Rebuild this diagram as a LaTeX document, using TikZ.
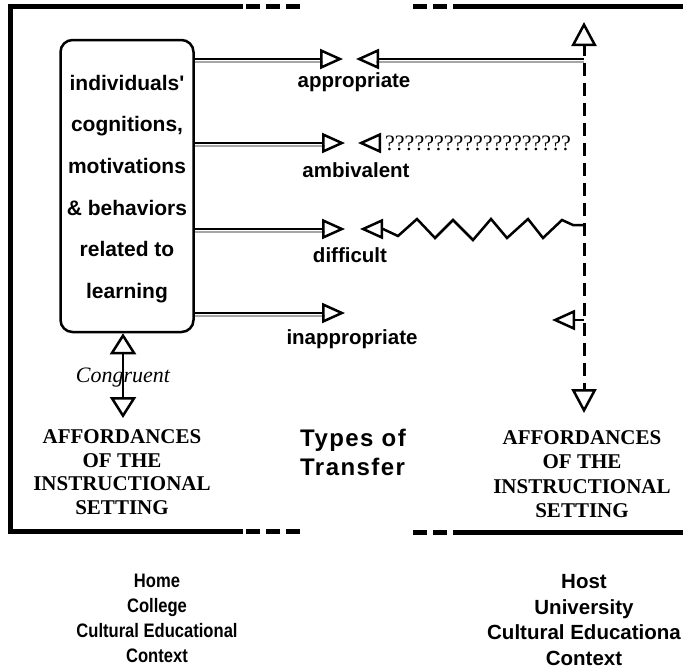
\documentclass[tikz,border=0pt]{standalone}
\usepackage{fontspec}
\setmainfont{Liberation Serif}
\setsansfont{Liberation Sans}
\usetikzlibrary{arrows.meta}
\tikzset{
  frame/.style={line width=5pt, line cap=butt},
  framedash/.style={line width=5pt, dash pattern=on 14pt off 6pt},
  shaft/.style={line width=2.8pt, line cap=butt},
  grayshaft/.style={line width=1.8pt, gray!70, line cap=butt},
  otip/.style={-{Triangle[open, length=23pt, width=20pt, line width=2.5pt]}},
  congtips/.style={{Triangle[open, length=21pt, width=26pt, line width=2.5pt]}-{Triangle[open, length=21pt, width=26pt, line width=2.5pt]}},
  vtips/.style={{Triangle[open, length=24pt, width=25pt, line width=2.5pt]}-{Triangle[open, length=24pt, width=25pt, line width=2.5pt]}},
  sanslbl/.style={font=\sffamily\bfseries\fontsize{20.5}{22}\selectfont, inner sep=0pt},
  serifcap/.style={font=\bfseries\fontsize{21}{23.5}\selectfont, align=center, inner sep=0pt},
  bottomtxt/.style={font=\sffamily\bfseries\fontsize{19.5}{25}\selectfont, align=center, inner sep=0pt},
}
\begin{document}
\begin{tikzpicture}[x=1pt, y=-1pt]
\useasboundingbox (0,0) rectangle (683,670);
% frames
\draw[frame] (243,6) -- (10,6) -- (10,531) -- (243,531);
\draw[framedash] (246,6) -- (303,6);
\draw[framedash] (246,531) -- (303,531);
\draw[framedash] (413,6) -- (467,6);
\draw[framedash] (413,532) -- (467,532);
\draw[frame] (467,6) -- (683,6);
\draw[frame] (467,532) -- (683,532);

% main box
\node[draw, line width=2.5pt, rounded corners=12pt, minimum width=133pt, minimum height=292pt,
      align=center, inner sep=0pt, font=\sffamily\bfseries\fontsize{21}{41.6}\selectfont]
  (box) at (127,186) {\rule{0pt}{21pt}individuals\textquotesingle\\cognitions,\\motivations\\\& behaviors\\related to\\learning};

% tips of left arrows
\coordinate (t1) at (343,59);
\coordinate (t2) at (345,143);
\coordinate (t3) at (345,229);
\coordinate (t4) at (345,313);
\foreach \t in {t1,t2,t3,t4}{
  \draw[grayshaft, shorten >=20pt] ([yshift=-3pt]box.east |- \t) -- ([yshift=-3pt]\t);
  \draw[shaft, otip] (box.east |- \t) -- (\t);
}

% labels
\node[sanslbl] (l1) at (354,82) {appropriate};
\node[sanslbl] (l2) at (356,170) {ambivalent};
\node[sanslbl] (l3) at (350,255) {difficult};
\node[sanslbl] (l4) at (352,339) {inappropriate};

% right vertical dashed line
\coordinate (vt) at (584,22);
\coordinate (vb) at (584,413);
\draw[line width=3pt, dash pattern=on 13pt off 7pt, dash phase=-18pt, vtips] (vt) -- (vb);

% appropriate from right
\coordinate (r1) at (584,59);
\coordinate (rt1) at (356,59);
\draw[grayshaft, shorten >=20pt] ([yshift=-3pt]r1) -- ([yshift=-3pt]rt1);
\draw[shaft, otip] (r1) -- (rt1);

% ambivalent from right
\node[font=\fontsize{22}{24}\selectfont, anchor=west, inner sep=0pt] (qq) at (385,143) {???????????????????};
\coordinate (rt2) at (358,143);
\draw[line width=2.5pt, otip] ([xshift=-4pt]qq.west) -- (rt2);

% difficult from right (zigzag)
\coordinate (r3) at (584,225);
\coordinate (rt3) at (360,229);
\draw[line width=2.5pt, line join=miter, otip] (r3) -- (573,225) -- (562,220) -- (543,238) -- (528,219) -- (507,238)
  -- (491,219) -- (473,240) -- (453,220) -- (435,238) -- (417,219) -- (398,236) -- (383,229) -- (rt3);

% inappropriate from right
\coordinate (r4) at (584,320);
\coordinate (rt4) at (552,320);
\draw[line width=2.5pt, otip] (r4) -- (rt4);

% congruent
\node[serifcap] (affl) at (122,472) {AFFORDANCES\\OF THE\\INSTRUCTIONAL\\SETTING};
\draw[line width=2.5pt, congtips] (box.south -| 123,0) -- (123,418);
\node[font=\itshape\fontsize{22}{24}\selectfont, inner sep=0pt] (cong) at (123,378) {Congruent};

\node[serifcap, font=\bfseries\fontsize{21}{24.5}\selectfont] (affr) at (582,474) {AFFORDANCES\\OF THE\\INSTRUCTIONAL\\SETTING};

% types of transfer
\node[font=\sffamily\bfseries\fontsize{24}{29}\selectfont\addfontfeatures{LetterSpace=6}, align=left, inner sep=0pt]
  (types) at (353,452) {Types of\\Transfer};

% bottom contexts
\node[bottomtxt, xscale=0.85, transform shape] (home) at (157,618) {Home\\College\\Cultural Educational\\Context};
\node[bottomtxt, font=\sffamily\bfseries\fontsize{20.5}{25.5}\selectfont] (host) at (584,620) {Host\\University\\Cultural Educationa\\Context};
\end{tikzpicture}
\end{document}
